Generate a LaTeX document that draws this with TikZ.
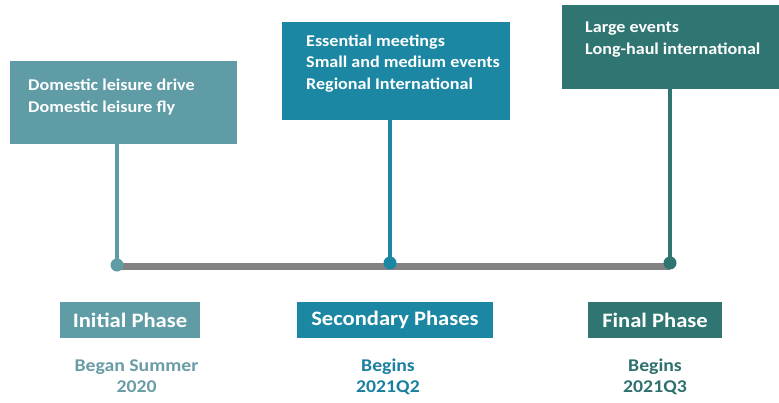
\documentclass[tikz,border=0pt]{standalone}
\usepackage{fontspec}
\setmainfont{Carlito}[FakeStretch=1.1]
\definecolor{cA}{HTML}{5F9CA6}
\definecolor{cB}{HTML}{1C87A3}
\definecolor{cC}{HTML}{2F7571}
\definecolor{tA}{HTML}{6A9CA6}
\definecolor{tB}{HTML}{1B7FA0}
\definecolor{tC}{HTML}{2E706D}
\definecolor{barc}{HTML}{828282}
\tikzset{
  topbox/.style={draw=none, inner sep=0pt, anchor=north west},
  boxtext/.style={anchor=base west, inner sep=0pt, text=white, align=left, font=\bfseries\fontsize{16.5}{21.5}\selectfont},
  phasebox/.style={inner sep=0pt, minimum height=36bp, text=white, font=\bfseries\fontsize{20.6}{22}\selectfont},
  datetext/.style={anchor=base, align=center, inner sep=0pt, font=\bfseries\fontsize{18}{20.5}\selectfont},
  stem/.style={line width=4.5bp},
  dot/.style={circle, inner sep=0pt, minimum size=13bp},
}
\begin{document}
\begin{tikzpicture}[x=1bp,y=1bp]
\useasboundingbox (0,0) rectangle (779,402);
% top boxes
\node[topbox, fill=cA, minimum width=227bp, minimum height=83bp] (b1) at (10,341) {};
\node[topbox, fill=cB, minimum width=228bp, minimum height=98bp] (b2) at (282,380) {};
\node[topbox, fill=cC, minimum width=217bp, minimum height=84bp] (b3) at (562,397) {};
% base anchor = baseline of the last line
\node[boxtext] (t1) at (28,290) {Domestic leisure drive\\Domestic leisure fly};
\node[boxtext] (t2) at (306,313) {Essential meetings\\Small and medium events\\Regional International};
\node[boxtext] (t3) at (585,348) {Large events\\Long-haul international};
% timeline
\coordinate (e1) at (117,135.5);
\coordinate (e3) at (670,135.5);
\coordinate (d1) at (117,137);
\coordinate (d2) at (390,139);
\coordinate (d3) at (670,139);
\draw[barc, line width=7bp] (e1) -- (e3);
\draw[cA, stem] (d1) -- (d1 |- b1.south);
\draw[cB, stem] (d2) -- (d2 |- b2.south);
\draw[cC, stem] (d3) -- (d3 |- b3.south);
\node[dot, fill=cA] (p1) at (d1) {};
\node[dot, fill=cB] (p2) at (d2) {};
\node[dot, fill=cC] (p3) at (d3) {};
% phase labels
\node[phasebox, fill=cA, minimum width=140bp] (l1) at (130,82) {Initial Phase};
\node[phasebox, fill=cB, minimum width=196bp] (l2) at (395,82) {Secondary Phases};
\node[phasebox, fill=cC, minimum width=134bp] (l3) at (655,82) {Final Phase};
% dates
\node[datetext, text=tA] (s1) at (136.5,10) {Began Summer\\2020};
\node[datetext, text=tB] (s2) at (388,10) {Begins\\2021Q2};
\node[datetext, text=tC] (s3) at (655,10) {Begins\\2021Q3};
\end{tikzpicture}
\end{document}
